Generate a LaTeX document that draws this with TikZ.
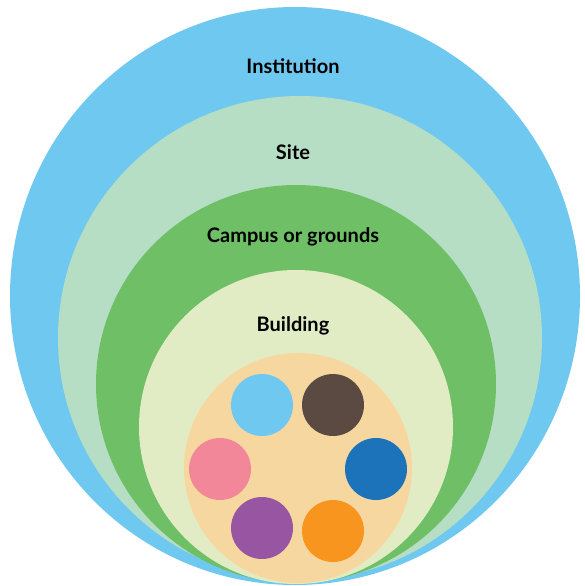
\documentclass[tikz,border=0pt]{standalone}
\usepackage{fontspec}
\setmainfont{Lato}
\usetikzlibrary{positioning,shapes.geometric}
\definecolor{instblue}{HTML}{6FC8F0}
\definecolor{sitegreen}{HTML}{B5DEC4}
\definecolor{campgreen}{HTML}{6FBF67}
\definecolor{buildpale}{HTML}{E2ECC4}
\definecolor{roompeach}{HTML}{F7D7A0}
\definecolor{dotsky}{HTML}{6FC8F0}
\definecolor{dotbrown}{HTML}{5B4A41}
\definecolor{dotblue}{HTML}{1D73BA}
\definecolor{dotorange}{HTML}{F7951F}
\definecolor{dotpurple}{HTML}{9855A1}
\definecolor{dotpink}{HTML}{F2879A}

\begin{document}
\begin{tikzpicture}[x=1pt,y=-1pt,
    lvl/.style={font=\bfseries\fontsize{20}{22}\selectfont, anchor=base, inner sep=0pt},
    dot/.style={circle, minimum size=62pt, inner sep=0pt}]
\useasboundingbox (0,0) rectangle (584,586);

% nested levels
\node (institution) [ellipse, fill=instblue, minimum width=570pt, minimum height=578pt, inner sep=0pt] at (295,296) {};
\node (site) [circle, fill=sitegreen, minimum size=484pt, inner sep=0pt] at (300,338) {};
\node (campus) [ellipse, fill=campgreen, minimum width=400pt, minimum height=398pt, inner sep=0pt] at (296,384) {};
\node (building) [circle, fill=buildpale, minimum size=314pt, inner sep=0pt] at (296,427) {};
\node (room) [ellipse, fill=roompeach, minimum width=228pt, minimum height=230pt, inner sep=0pt] at (298,468) {};

\node (institution label) [lvl] at (293,74) {Institution};
\node (site label) [lvl] at (293,159) {Site};
\node (campus label) [lvl] at (293,242) {Campus or grounds};
\node (building label) [lvl] at (293,331) {Building};

% six dots
\foreach \c/\x/\y in {dotsky/262/405, dotbrown/333/405, dotblue/376/469,
    dotorange/333/531, dotpurple/262/528, dotpink/220/469}
    \node (\c) [dot, fill=\c] at (\x,\y) {};

\end{tikzpicture}
\end{document}
